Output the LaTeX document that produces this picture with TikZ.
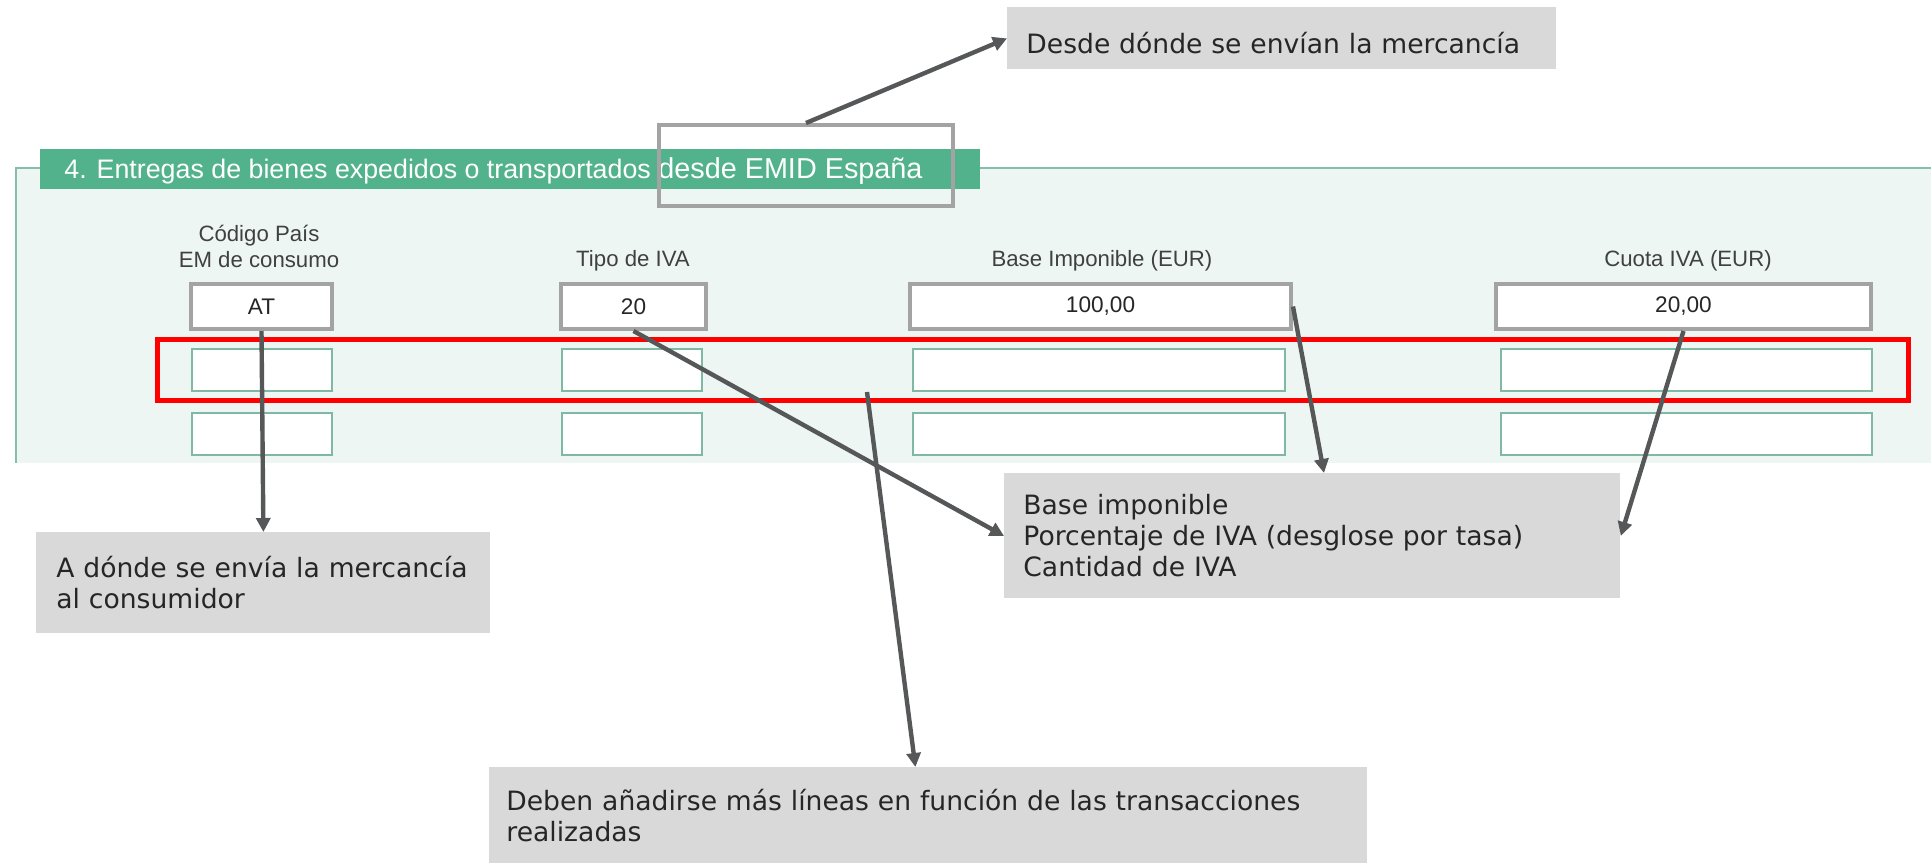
\documentclass[tikz,border=0pt]{standalone}
\usepackage{fontspec}
\usepackage{xcolor}
\newfontfamily\formfont{Liberation Sans}
\newfontfamily\notefont{DejaVu Sans}
\usetikzlibrary{arrows.meta}
\definecolor{formgreen}{HTML}{52B28C}
\definecolor{panelbg}{HTML}{EEF6F3}
\definecolor{panelline}{HTML}{84BFA9}
\definecolor{fieldline}{HTML}{7FB9A3}
\definecolor{framegray}{HTML}{A3A3A3}
\definecolor{notegray}{HTML}{D9D9D9}
\definecolor{arrowgray}{HTML}{555759}
\definecolor{headgray}{HTML}{404040}

\begin{document}
\begin{tikzpicture}[x=0.5pt,y=-0.5pt,
  field/.style={draw=fieldline,line width=1pt,fill=white,minimum height=21pt,inner sep=0pt},
  filled/.style={draw=framegray,line width=2pt,fill=white,minimum height=22.5pt,inner sep=0pt,font=\formfont\fontsize{11.3}{13}\selectfont,text=black!85},
  colhead/.style={font=\formfont\fontsize{11.1}{13}\selectfont,text=headgray,align=center,inner sep=0pt},
  note/.style={fill=notegray,anchor=north west,align=left,font=\notefont\fontsize{13.3}{15.5}\selectfont,text=black!85},
  pointer/.style={draw=arrowgray,line width=2.2pt,-{Triangle[length=7pt,width=7pt]}}]
\useasboundingbox (0,0) rectangle (1931,864);
\fill [panelbg] (16,168) rectangle (1931,463);
\draw [panelline,line width=1pt] (16,463) -- (16,168) -- (40,168);
\draw [panelline,line width=1pt] (980,168) -- (1931,168);
\fill [formgreen] (40,149) rectangle (980,189);
\node [anchor=base west,inner sep=0pt,text=white,font=\formfont] (title) at (64,178) {\fontsize{13.4}{16}\selectfont 4. Entregas de bienes expedidos o transportados \fontsize{14.4}{16}\selectfont desde EMID España};
\node [draw=framegray,line width=2pt,minimum width=147pt,minimum height=40.5pt] (hl) at (806,165.5) {};
\node [colhead,anchor=south] (hpais) at (259,268) {Código País\\EM de consumo};
\node [colhead,anchor=base] (htipo) at (633,266) {Tipo de IVA};
\node [colhead,anchor=base] (hbase) at (1102,266) {Base Imponible (EUR)};
\node [colhead,anchor=base] (hcuota) at (1688,266) {Cuota IVA (EUR)};
\node [filled,minimum width=70.5pt] (at) at (261.5,306.5) {AT};
\node [filled,minimum width=72.5pt] (tipo) at (633.5,306.5) {20};
\node [filled,minimum width=190.5pt] (base) at (1100.5,306.5) {100,00};
\node [filled,minimum width=187.5pt] (cuota) at (1683.5,306.5) {20,00};
\node [field,minimum width=70pt] (pais2) at (262,370) {};
\node [field,minimum width=70pt] (tipo2) at (632,370) {};
\node [field,minimum width=186pt] (base2) at (1099,370) {};
\node [field,minimum width=185.5pt] (cuota2) at (1686.5,370) {};
\node [field,minimum width=70pt] (pais3) at (262,433.5) {};
\node [field,minimum width=70pt] (tipo3) at (632,433.5) {};
\node [field,minimum width=186pt] (base3) at (1099,433.5) {};
\node [field,minimum width=185.5pt] (cuota3) at (1686.5,433.5) {};
\node [draw=red,line width=2.5pt,minimum width=875.5pt,minimum height=30.5pt] (extra) at (1033,370) {};
\coordinate (lineas) at (867,392);
\node [note,inner xsep=9.5pt,text width=255.5pt,minimum height=31pt,text height=15pt,text depth=0pt] (desde) at (1007,7) {Desde dónde se envían la mercancía};
\node [note,inner xsep=10pt,text width=207pt,minimum height=50.5pt] (destino) at (36,532) {A dónde se envía la mercancía\\al consumidor};
\node [note,inner xsep=9.5pt,text width=289pt,minimum height=62.5pt] (importes) at (1004,473) {Base imponible\\Porcentaje de IVA (desglose por tasa)\\Cantidad de IVA};
\node [note,inner xsep=8.5pt,text width=422pt,minimum height=48pt] (deben) at (489,767) {Deben añadirse más líneas en función de las transacciones\\realizadas};
\draw [pointer] (hl.north) -- (desde.west);
\draw [pointer] (at.south) -- (destino.north);
\draw [pointer] (tipo.south) -- (importes.west);
\draw [pointer] (base.east) -- ([xshift=160pt]importes.north west);
\draw [pointer] (cuota.south) -- (importes.east);
\draw [pointer] (lineas) -- ([xshift=-6.5pt]deben.north);
\end{tikzpicture}
\end{document}
